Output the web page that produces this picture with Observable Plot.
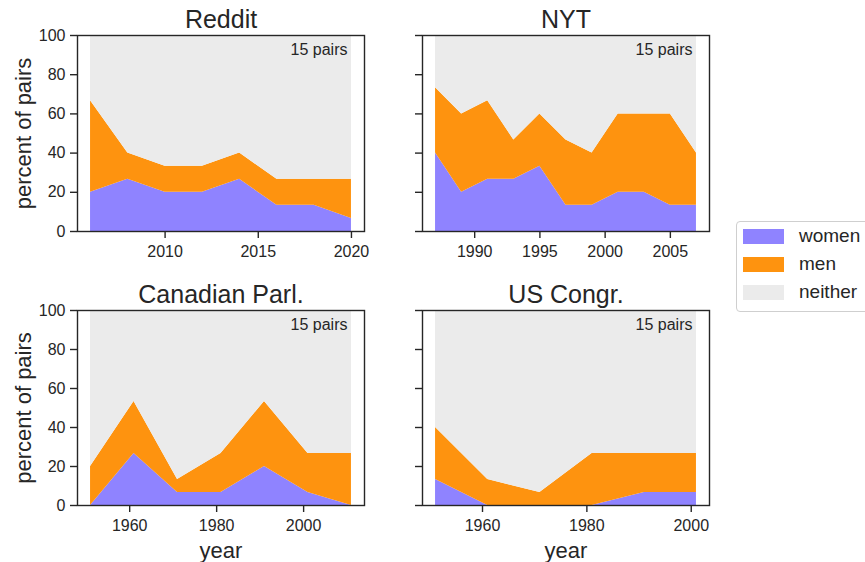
<!DOCTYPE html>
<html>
<head>
<meta charset="utf-8">
<script src="https://cdn.jsdelivr.net/npm/d3@7"></script>
<script src="https://cdn.jsdelivr.net/npm/@observablehq/plot@0.6"></script>
<style>
  html, body { margin: 0; padding: 0; background: #fff; overflow: hidden; }
  #chart { position: relative; width: 865px; height: 562px; font-family: "Liberation Sans", Arial, sans-serif; color: #262626; }
  .panel { position: absolute; }
  .legend { position: absolute; left: 736px; top: 221px; width: 140px; height: 91px; border: 1px solid #cfcfcf; border-radius: 4px; background: #fff; box-sizing: border-box; }
  .item { position: absolute; left: 6px; height: 15px; }
  .sw { position: absolute; left: 0; top: 0; width: 41px; height: 15px; }
  .lab { position: absolute; left: 56px; top: -4px; font-size: 19px; line-height: 22px; white-space: nowrap; }
</style>
</head>
<body>
<div id="chart"></div>
<script>
// ---- data (percent of 15 pairs) ----
const groups = ["women", "men", "neither"];
const colors = ["#8f83ff", "#fe930f", "#ebebeb"];
const yTicks = [0, 20, 40, 60, 80, 100];

const redditYears   = [2006, 2008, 2010, 2012, 2014, 2016, 2018, 2020];
const redditWomen   = [20, 26.67, 20, 20, 26.67, 13.33, 13.33, 6.67];
const redditMen     = [46.67, 13.33, 13.33, 13.33, 13.33, 13.33, 13.33, 20];
const redditNeither = [33.33, 60, 66.67, 66.67, 60, 73.33, 73.33, 73.33];
const redditTicks   = [2010, 2015, 2020];

const nytYears   = [1987, 1989, 1991, 1993, 1995, 1997, 1999, 2001, 2003, 2005, 2007];
const nytWomen   = [40, 20, 26.67, 26.67, 33.33, 13.33, 13.33, 20, 20, 13.33, 13.33];
const nytMen     = [33.33, 40, 40, 20, 26.67, 33.33, 26.67, 40, 40, 46.67, 26.67];
const nytNeither = [26.67, 40, 33.33, 53.33, 40, 53.33, 60, 40, 40, 40, 60];
const nytTicks   = [1990, 1995, 2000, 2005];

const canYears   = [1951, 1961, 1971, 1981, 1991, 2001, 2011];
const canWomen   = [0, 26.67, 6.67, 6.67, 20, 6.67, 0];
const canMen     = [20, 26.67, 6.67, 20, 33.33, 20, 26.67];
const canNeither = [80, 46.67, 86.67, 73.33, 46.67, 73.33, 73.33];
const canTicks   = [1960, 1980, 2000];

const usYears   = [1951, 1961, 1971, 1981, 1991, 2001];
const usWomen   = [13.33, 0, 0, 0, 6.67, 6.67];
const usMen     = [26.67, 13.33, 6.67, 26.67, 20, 20];
const usNeither = [60, 86.67, 93.33, 73.33, 73.33, 73.33];
const usTicks   = [1960, 1980, 2000];

const pairsLabel = "15 pairs";
const yLabel = "percent of pairs";
const xLabel = "year";

// ---- layout ----
const FW = 287;
const colFrameLeft = [77, 422];
const rowFrameTop = [35, 310];
const rowFrameH = [196, 195];

function panel(title, years, women, men, neither, ticks, col, row) {
  const data = [];
  years.forEach((yr, i) => {
    data.push({year: yr, group: "women", value: women[i]});
    data.push({year: yr, group: "men", value: men[i]});
    data.push({year: yr, group: "neither", value: neither[i]});
  });
  const lo = years[0], hi = years[years.length - 1], pad = (hi - lo) * 0.05;
  const left = col === 0, bottom = row === 1;
  const mL = left ? 77 : 10, mR = 10, mT = 35, mB = bottom ? 55 : 36;
  const fh = rowFrameH[row];
  const svg = Plot.plot({
    width: mL + FW + mR,
    height: mT + fh + mB,
    marginLeft: mL, marginRight: mR, marginTop: mT, marginBottom: mB,
    style: {fontFamily: '"Liberation Sans", Arial, sans-serif', fontSize: "16px", color: "#262626", background: "transparent", overflow: "visible"},
    x: {domain: [lo - pad, hi + pad]},
    y: {domain: [0, 100]},
    color: {domain: groups, range: colors},
    marks: [
      Plot.areaY(data, {x: "year", y: "value", fill: "group", clip: true}),
      Plot.axisX({ticks: ticks, tickFormat: "d", tickSize: 7, tickPadding: 7, strokeWidth: 1.4, label: null, fontSize: 16}),
      Plot.axisY({ticks: yTicks, tickFormat: left ? "d" : () => "", tickSize: 7, tickPadding: 5, strokeWidth: 1.4, label: null, fontSize: 16}),
      Plot.frame({stroke: "#262626", strokeWidth: 1.4}),
      Plot.text([title], {frameAnchor: "top", dy: -8, lineAnchor: "bottom", fontSize: 25}),
      Plot.text([pairsLabel], {frameAnchor: "top-right", dx: -17, dy: 8, lineAnchor: "top", fontSize: 16}),
      left ? Plot.text([yLabel], {frameAnchor: "left", rotate: -90, dx: -54, textAnchor: "middle", lineAnchor: "middle", fontSize: 22}) : null,
      bottom ? Plot.text([xLabel], {frameAnchor: "bottom", dy: 52, lineAnchor: "bottom", fontSize: 22}) : null
    ]
  });
  svg.classList.add("panel");
  svg.style.left = (colFrameLeft[col] - mL) + "px";
  svg.style.top = (rowFrameTop[row] - mT) + "px";
  document.getElementById("chart").appendChild(svg);
}

panel("Reddit", redditYears, redditWomen, redditMen, redditNeither, redditTicks, 0, 0);
panel("NYT", nytYears, nytWomen, nytMen, nytNeither, nytTicks, 1, 0);
panel("Canadian Parl.", canYears, canWomen, canMen, canNeither, canTicks, 0, 1);
panel("US Congr.", usYears, usWomen, usMen, usNeither, usTicks, 1, 1);

// ---- legend ----
const legend = document.createElement("div");
legend.className = "legend";
groups.forEach((g, i) => {
  const it = document.createElement("div");
  it.className = "item";
  it.style.top = (7 + i * 28) + "px";
  const sw = document.createElement("div");
  sw.className = "sw";
  sw.style.background = colors[i];
  const lab = document.createElement("div");
  lab.className = "lab";
  lab.textContent = g;
  it.appendChild(sw);
  it.appendChild(lab);
  legend.appendChild(it);
});
document.getElementById("chart").appendChild(legend);
</script>
</body>
</html>
